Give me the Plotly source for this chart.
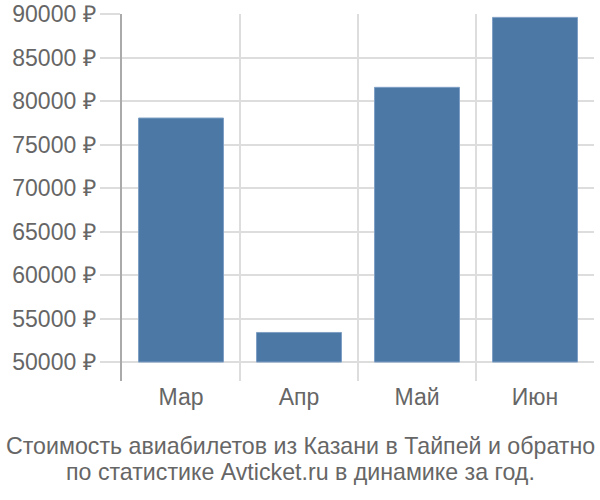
import plotly.graph_objects as go

# данные с графика
months = ["Мар", "Апр", "Май", "Июн"]
prices = [78050, 53400, 81580, 89620]
base_price = 50000
y_ticks = [50000, 55000, 60000, 65000, 70000, 75000, 80000, 85000, 90000]
title_lines = [
    "Стоимость авиабилетов из Казани в Тайпей и обратно",
    "по статистике Avticket.ru в динамике за год.",
]

fig = go.Figure()
fig.add_trace(go.Bar(
    x=months,
    y=[p - base_price for p in prices],
    base=base_price,
    marker=dict(color="#4c78a6", line=dict(color="#7f9fc4", width=1)),
    width=0.72,
))

fig.update_layout(
    width=600,
    height=500,
    margin=dict(l=122, r=6, t=14, b=119, autoexpand=False),
    plot_bgcolor="white",
    paper_bgcolor="white",
    showlegend=False,
    font=dict(family="Liberation Sans, Arial, sans-serif", color="#666666"),
)

fig.update_xaxes(
    type="category",
    tickson="boundaries",
    showgrid=True,
    gridcolor="#dddddd",
    gridwidth=1.5,
    showline=False,
    ticks="",
    tickfont=dict(size=23),
    automargin=False,
)

fig.update_yaxes(
    range=[47820, 90010],
    tickvals=y_ticks,
    ticktext=[f"{v} ₽" for v in y_ticks],
    showgrid=True,
    gridcolor="#dddddd",
    gridwidth=1.5,
    showline=True,
    linecolor="#aaaaaa",
    linewidth=1.5,
    ticks="outside",
    ticklen=20,
    tickcolor="#dddddd",
    tickwidth=1.5,
    tickfont=dict(size=23),
    ticklabeloverflow="allow",
    zeroline=False,
    automargin=False,
)

# подпись внизу — две строки отдельно, чтобы задать интервал
plot_h = 500 - 14 - 119
plot_w = 600 - 122 - 6
title_y = [(381 - 446) / plot_h, (381 - 472) / plot_h]
for line, ty in zip(title_lines, title_y):
    fig.add_annotation(
        text=line,
        xref="paper", yref="paper",
        x=(300 - 122) / plot_w, y=ty,
        xanchor="center", yanchor="middle",
        showarrow=False,
        font=dict(size=23.2, color="#666666"),
    )

# убираем стандартный отступ body, чтобы график начинался с (0, 0)
fig.write_html(
    "out.html",
    config={"displayModeBar": False},
    post_script="document.body.style.margin='0';",
)
